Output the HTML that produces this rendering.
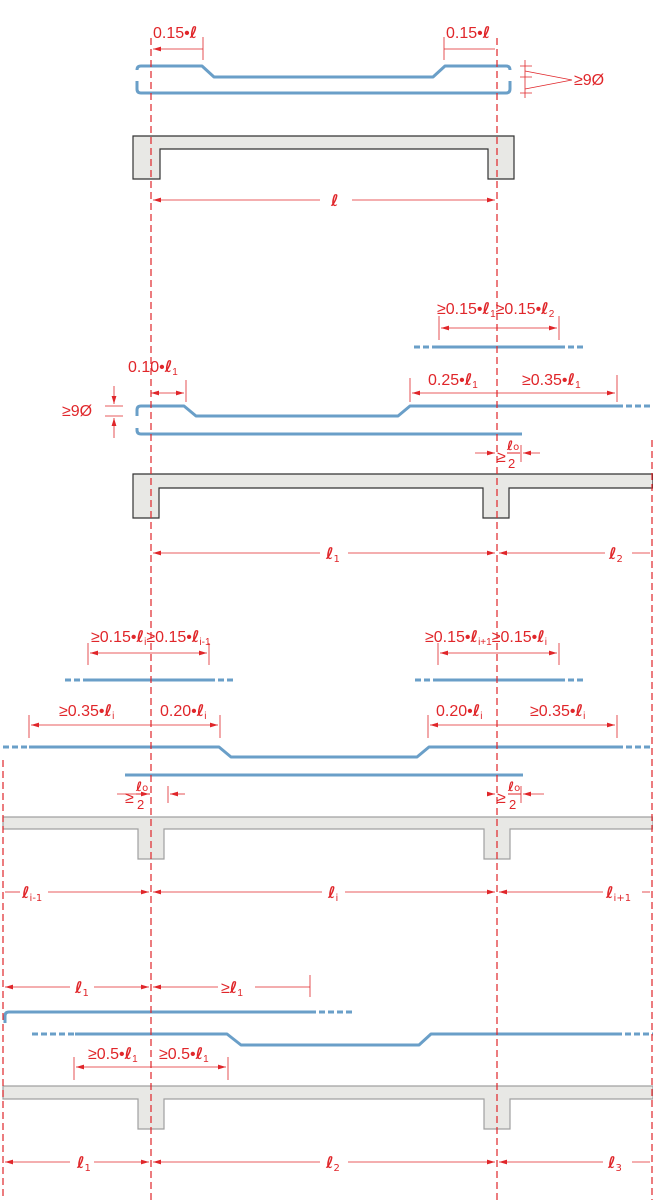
<!DOCTYPE html>
<html><head><meta charset="utf-8"><style>
html,body{margin:0;padding:0;background:#fff}
svg{display:block}
text{font-family:"Liberation Sans","DejaVu Sans",sans-serif;fill:#e0262a;font-size:16px}
.l{font-style:italic;font-weight:bold;font-family:"DejaVu Sans",sans-serif;font-size:16px}
.s{font-size:10px}
</style></head><body>
<svg width="653" height="1200" viewBox="0 0 653 1200" xmlns="http://www.w3.org/2000/svg">
<defs>
<marker id="a" viewBox="0 0 10 6" refX="10" refY="3" markerWidth="8" markerHeight="5" orient="auto-start-reverse" markerUnits="userSpaceOnUse"><path d="M0,0L10,3L0,6z" fill="#e0262a"/></marker>
</defs>
<g fill="#e8e8e5" stroke="#333" stroke-width="1.2">
<path d="M133,136H514V179H488V149H160V179H133Z"/>
<path d="M133,474H653V488H509V518H483V488H159V518H133Z"/>
</g>
<g fill="#e8e8e5" stroke="#a0a0a0" stroke-width="1.2">
<path d="M3,817H653V829H510V859H484V829H164V859H138V829H3Z"/>
<path d="M3,1086H653V1099H510V1129H484V1099H164V1129H138V1099H3Z"/>
</g>
<g fill="none" stroke="#6a9fc8" stroke-width="3" stroke-linejoin="round">
<path d="M137,70V70Q137,66 141,66H202L214,77H433L445,66H506Q510,66 510,70"/>
<path d="M137,81V89Q137,93 141,93H506Q510,93 510,89V81"/>
<path d="M137,416V410Q137,406 141,406H184L196,416H398L410,406H617"/>
<path d="M137,428V430Q137,434 141,434H522"/>
<path d="M438,347H559"/><path d="M88,680H209"/><path d="M438,680H559"/>
<path d="M29,747H219L231,757H417L429,747H617"/>
<path d="M125,775H523"/>
<path d="M5,1023V1016Q5,1012 9,1012H310"/>
<path d="M75,1034H227L241,1045H419L431,1034H616"/>
</g>
<g fill="none" stroke="#6a9fc8" stroke-width="3" stroke-dasharray="6,3">
<path d="M617,406H653"/><path d="M414,347H438"/><path d="M559,347H583"/>
<path d="M65,680H88"/><path d="M209,680H233"/><path d="M415,680H438"/><path d="M559,680H583"/>
<path d="M3,747H29"/><path d="M617,747H653"/>
<path d="M310,1012H352"/><path d="M32,1034H75"/><path d="M616,1034H653"/>
</g>
<g stroke="#e0262a" stroke-width="1.2" stroke-dasharray="7,4" fill="none">
<path d="M151,38V1200"/><path d="M497,38V1200"/><path d="M3,760V1200"/><path d="M652,440V1200"/>
</g>
<g stroke="#e0262a" stroke-width="0.8" fill="none">
<path d="M203,37V60M444,37V60"/>
<path d="M153,49H203M444,49H495" marker-start="url(#a)"/>
<path d="M153,200H320" marker-start="url(#a)"/><path d="M352,200H495" marker-end="url(#a)"/>
<path d="M520,66H532M520,77H532M520,93H532M525,60V98"/>
<path d="M525,71L572,80M525,89L572,80"/>
<path d="M439,316V340M559,316V340"/>
<path d="M497,328H441" marker-end="url(#a)"/><path d="M497,328H557" marker-end="url(#a)"/>
<path d="M186,380V402M410,378V402M617,375V402"/>
<path d="M151,393H184" marker-start="url(#a)" marker-end="url(#a)"/>
<path d="M497,393H412" marker-end="url(#a)"/><path d="M497,393H615" marker-end="url(#a)"/>
<path d="M105,406H123M105,416H123"/>
<path d="M114,386V404" marker-end="url(#a)"/><path d="M114,438V418" marker-end="url(#a)"/>
<path d="M475,453H495" marker-end="url(#a)"/><path d="M540,453H523" marker-end="url(#a)"/><path d="M521,445V462"/>
<path d="M320,553H153" marker-end="url(#a)"/><path d="M348,553H495" marker-end="url(#a)"/>
<path d="M605,553H499" marker-end="url(#a)"/><path d="M632,553H650"/>
<path d="M88,643V665M209,643V665M438,643V665M559,643V665"/>
<path d="M151,653H90" marker-end="url(#a)"/><path d="M151,653H207" marker-end="url(#a)"/>
<path d="M497,653H440" marker-end="url(#a)"/><path d="M497,653H557" marker-end="url(#a)"/>
<path d="M29,715V738M220,715V738M428,715V738M617,715V738"/>
<path d="M151,725H31" marker-end="url(#a)"/><path d="M151,725H218" marker-end="url(#a)"/>
<path d="M497,725H430" marker-end="url(#a)"/><path d="M497,725H615" marker-end="url(#a)"/>
<path d="M117,794H149" marker-end="url(#a)"/><path d="M185,794H170" marker-end="url(#a)"/><path d="M168,786V803"/>
<path d="M487,794H495" marker-end="url(#a)"/><path d="M544,794H523" marker-end="url(#a)"/><path d="M521,786V803"/>
<path d="M5,892H20"/><path d="M48,892H149" marker-end="url(#a)"/>
<path d="M153,892H322" marker-start="url(#a)"/><path d="M345,892H495" marker-end="url(#a)"/>
<path d="M499,892H603" marker-start="url(#a)"/><path d="M642,892H650"/>
<path d="M5,987H70" marker-start="url(#a)"/><path d="M94,987H149" marker-end="url(#a)"/>
<path d="M153,987H218" marker-start="url(#a)"/><path d="M255,987H310M310,975V997"/>
<path d="M74,1057V1080M228,1057V1080"/>
<path d="M151,1067H76" marker-end="url(#a)"/><path d="M151,1067H226" marker-end="url(#a)"/>
<path d="M5,1162H70" marker-start="url(#a)"/><path d="M94,1162H149" marker-end="url(#a)"/>
<path d="M153,1162H320" marker-start="url(#a)"/><path d="M348,1162H495" marker-end="url(#a)"/>
<path d="M499,1162H603" marker-start="url(#a)"/><path d="M632,1162H650"/>
</g>
<text x="153" y="38">0.15•<tspan class="l">ℓ</tspan></text>
<text x="446" y="38">0.15•<tspan class="l">ℓ</tspan></text>
<text x="574" y="85">≥9Ø</text>
<text x="331" y="206" class="l">ℓ</text>
<text x="437" y="314">≥0.15•<tspan class="l">ℓ</tspan><tspan class="s" dy="3">1</tspan><tspan dy="-3">≥0.15•</tspan><tspan class="l">ℓ</tspan><tspan class="s" dy="3">2</tspan></text>
<text x="128" y="372">0.10•<tspan class="l">ℓ</tspan><tspan class="s" dy="3">1</tspan></text>
<text x="428" y="385">0.25•<tspan class="l">ℓ</tspan><tspan class="s" dy="3">1</tspan></text>
<text x="522" y="385">≥0.35•<tspan class="l">ℓ</tspan><tspan class="s" dy="3">1</tspan></text>
<text x="62" y="416">≥9Ø</text>
<text x="497" y="462">≥</text><text x="507" y="450" class="l" style="font-size:13px">ℓ<tspan class="s" style="font-style:normal;font-weight:normal">o</tspan></text><path d="M507,453H520" stroke="#e0262a"/><text x="508" y="468" style="font-size:13px">2</text>
<text x="326" y="559" class="l">ℓ<tspan class="s" dy="3" style="font-style:normal;font-weight:normal">1</tspan></text>
<text x="609" y="559" class="l">ℓ<tspan class="s" dy="3" style="font-style:normal;font-weight:normal">2</tspan></text>
<text x="91" y="642">≥0.15•<tspan class="l">ℓ</tspan><tspan class="s" dy="3">i</tspan><tspan dy="-3">≥0.15•</tspan><tspan class="l">ℓ</tspan><tspan class="s" dy="3">i-1</tspan></text>
<text x="425" y="642">≥0.15•<tspan class="l">ℓ</tspan><tspan class="s" dy="3">i+1</tspan><tspan dy="-3">≥0.15•</tspan><tspan class="l">ℓ</tspan><tspan class="s" dy="3">i</tspan></text>
<text x="59" y="716">≥0.35•<tspan class="l">ℓ</tspan><tspan class="s" dy="3">i</tspan></text>
<text x="160" y="716">0.20•<tspan class="l">ℓ</tspan><tspan class="s" dy="3">i</tspan></text>
<text x="436" y="716">0.20•<tspan class="l">ℓ</tspan><tspan class="s" dy="3">i</tspan></text>
<text x="530" y="716">≥0.35•<tspan class="l">ℓ</tspan><tspan class="s" dy="3">i</tspan></text>
<text x="125" y="803">≥</text><text x="136" y="791" class="l" style="font-size:13px">ℓ<tspan class="s" style="font-style:normal;font-weight:normal">o</tspan></text><path d="M136,794H150" stroke="#e0262a"/><text x="137" y="809" style="font-size:13px">2</text>
<text x="497" y="803">≥</text><text x="508" y="791" class="l" style="font-size:13px">ℓ<tspan class="s" style="font-style:normal;font-weight:normal">o</tspan></text><path d="M508,794H521" stroke="#e0262a"/><text x="509" y="809" style="font-size:13px">2</text>
<text x="22" y="898" class="l">ℓ<tspan class="s" dy="3" style="font-style:normal;font-weight:normal">i-1</tspan></text>
<text x="328" y="898" class="l">ℓ<tspan class="s" dy="3" style="font-style:normal;font-weight:normal">i</tspan></text>
<text x="606" y="898" class="l">ℓ<tspan class="s" dy="3" style="font-style:normal;font-weight:normal">i+1</tspan></text>
<text x="75" y="993" class="l">ℓ<tspan class="s" dy="3" style="font-style:normal;font-weight:normal">1</tspan></text>
<text x="221" y="993">≥<tspan class="l">ℓ</tspan><tspan class="s" dy="3">1</tspan></text>
<text x="88" y="1059">≥0.5•<tspan class="l">ℓ</tspan><tspan class="s" dy="3">1</tspan></text>
<text x="159" y="1059">≥0.5•<tspan class="l">ℓ</tspan><tspan class="s" dy="3">1</tspan></text>
<text x="77" y="1168" class="l">ℓ<tspan class="s" dy="3" style="font-style:normal;font-weight:normal">1</tspan></text>
<text x="326" y="1168" class="l">ℓ<tspan class="s" dy="3" style="font-style:normal;font-weight:normal">2</tspan></text>
<text x="608" y="1168" class="l">ℓ<tspan class="s" dy="3" style="font-style:normal;font-weight:normal">3</tspan></text>
</svg>
</body></html>
